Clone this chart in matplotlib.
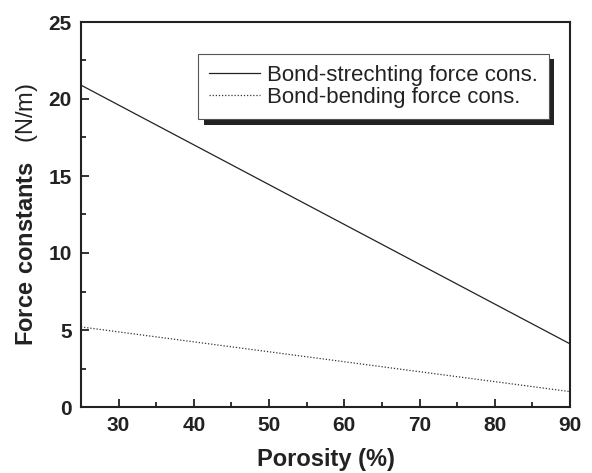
import matplotlib
matplotlib.use("Agg")
import matplotlib.pyplot as plt
from matplotlib.patches import Rectangle
from matplotlib.ticker import MultipleLocator

porosity = [25, 90]
stretching = [20.9, 4.1]
bending = [5.2, 1.0]

plt.rcParams['font.family'] = ['Liberation Sans', 'DejaVu Sans']
plt.rcParams['mathtext.fontset'] = 'custom'
plt.rcParams['mathtext.bf'] = 'Liberation Sans:bold'
plt.rcParams['mathtext.rm'] = 'Liberation Sans'

fig = plt.figure(figsize=(5.92, 4.73), dpi=100)
ax = fig.add_axes([81/592, 1-407/473, 489/592, 385/473])

ax.plot(porosity, stretching, color='#222222', lw=0.9, label='Bond-strechting force cons.')
ax.plot(porosity, bending, color='#333333', lw=0.9, ls=(0, (1, 1.5)), label='Bond-bending force cons.')

ax.set_xlim(25, 90)
ax.set_ylim(0, 25)
ax.xaxis.set_major_locator(MultipleLocator(10))
ax.xaxis.set_minor_locator(MultipleLocator(5))
ax.yaxis.set_major_locator(MultipleLocator(5))
ax.yaxis.set_minor_locator(MultipleLocator(2.5))
ax.tick_params(which='both', direction='in', top=False, right=False, width=1.3, color='#222222')
ax.tick_params(which='major', length=6, labelsize=15, pad=6.5)
ax.tick_params(which='minor', length=3.5)
for lab in ax.get_xticklabels() + ax.get_yticklabels():
    lab.set_fontweight('bold')
    lab.set_color('#222222')
for s in ax.spines.values():
    s.set_linewidth(1.5)
    s.set_color('#222222')

ax.set_xlabel('Porosity (%)', fontsize=17, fontweight='bold', labelpad=9, color='#222222')
ax.set_ylabel(r'$\mathbf{Force\ constants}$   (N/m)', fontsize=17, labelpad=6, color='#222222')

leg = ax.legend(loc='upper left', bbox_to_anchor=((198-81)/489, (407-54)/385),
                borderaxespad=0, fontsize=16, frameon=True, fancybox=False,
                handlelength=2.3, handletextpad=0.3, labelspacing=0.05,
                borderpad=0.5, edgecolor='#555555', framealpha=1)
leg.get_frame().set_linewidth(0.8)
leg.set_zorder(5)
for t in leg.get_texts():
    t.set_color('#222222')

fig.canvas.draw()
bb = leg.get_window_extent()
W, H = fig.bbox.width, fig.bbox.height
off = 5.5
shadow = Rectangle(((bb.x0 + off) / W, (bb.y0 - off) / H), bb.width / W, bb.height / H,
                   transform=fig.transFigure, facecolor='#222222', edgecolor='none', zorder=4)
ax.add_artist(shadow)
shadow.set_clip_on(False)

fig.savefig('out.png', dpi=100)
